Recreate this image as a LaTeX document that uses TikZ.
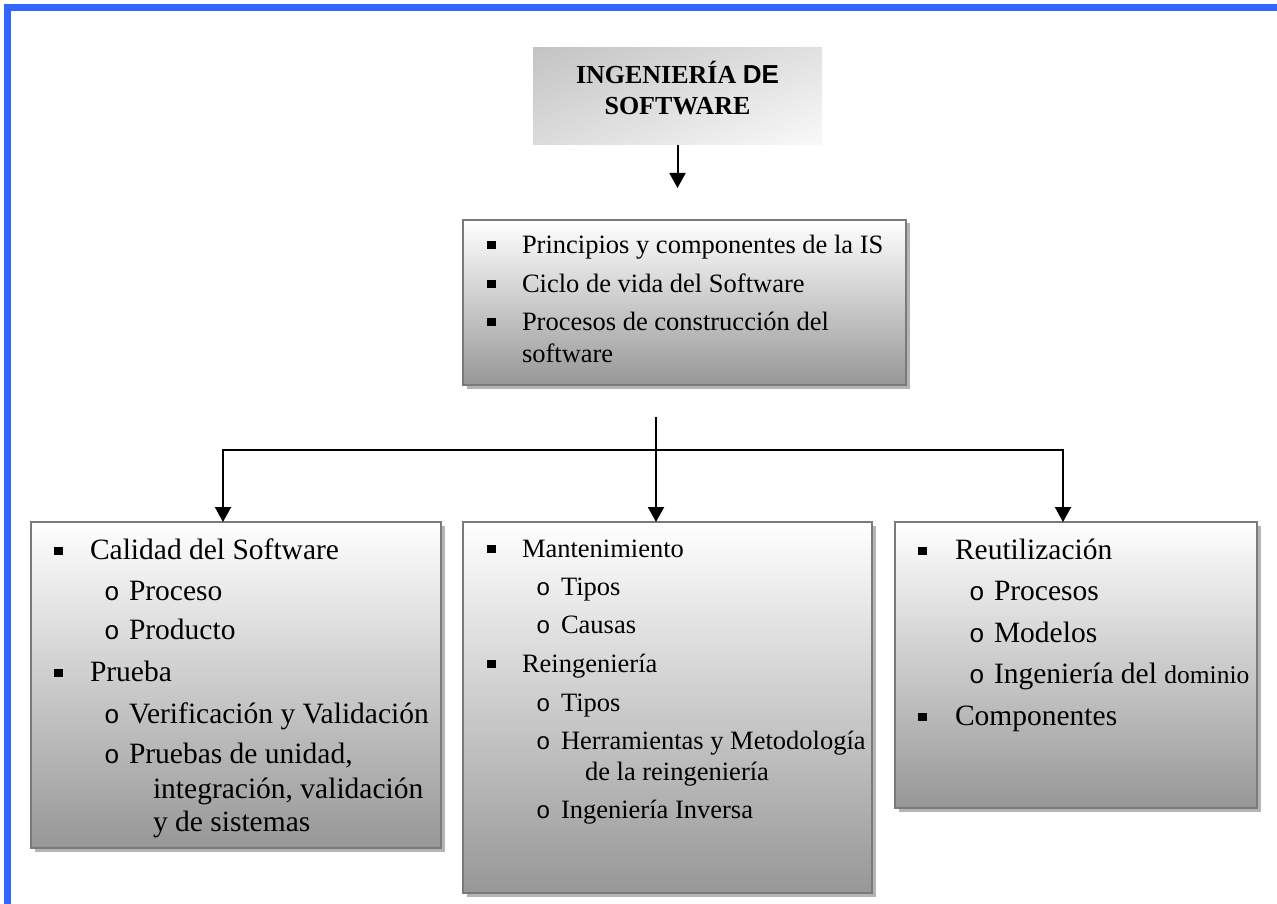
\documentclass[tikz,border=0pt]{standalone}
\usepackage{fontspec}
\setmainfont{Liberation Serif}
\newfontfamily\arialb{Liberation Sans}
\newfontfamily\monof{Liberation Mono}
\usetikzlibrary{arrows.meta,shadows,calc}
\definecolor{frameblue}{HTML}{3366FF}
\definecolor{boxbot}{HTML}{979797}
\definecolor{boxborder}{HTML}{7A7A7A}
\definecolor{shadowgray}{HTML}{B4B4B4}
\definecolor{titleleft}{HTML}{D0D0D0}
\definecolor{titleright}{HTML}{F8F8F8}
\definecolor{titletop}{HTML}{A0A0A0}
\newcommand\fbig{\fontsize{29.5}{35}\selectfont}
\newcommand\fmid{\fontsize{26.5}{32}\selectfont}
\newcommand\fdom{\fontsize{25.5}{30}\selectfont}
\newcommand\sqb{\rule[4pt]{8.5pt}{8.5pt}}
\newcommand\cirb{\makebox[25pt][l]{\monof\fontsize{26}{30}\selectfont o}}
\newcommand\cirm{\makebox[25pt][l]{\monof\fontsize{24}{28}\selectfont o}}
\begin{document}
\begin{tikzpicture}[x=1pt,y=-1pt,
  box/.style={draw=boxborder, line width=2pt, rectangle, inner sep=0pt, outer sep=0pt,
    top color=white, bottom color=boxbot,
    drop shadow={shadow xshift=3.5pt, shadow yshift=-3.5pt, fill=shadowgray, opacity=1}},
  titlebox/.style={rectangle, inner sep=0pt, outer sep=0pt,
    left color=titleleft, right color=titleright},
  txt/.style={anchor=base west, inner sep=0pt, outer sep=0pt},
  ttl/.style={anchor=base, inner sep=0pt, outer sep=0pt, font=\fontsize{26}{31}\selectfont\bfseries},
  conn/.style={line width=2pt, -{Triangle[width=16pt,length=15pt]}},
  plain/.style={line width=2pt}]
\useasboundingbox (0,0) rectangle (1277,904);
\fill[white] (0,0) rectangle (1277,904);
% blue frame
\draw[frameblue, line width=7pt] (7.5,904) -- (7.5,7.5) -- (1277,7.5);

% boxes
\node[titlebox, minimum width=289pt, minimum height=97pt] (title) at (677.5,96.5) {};
\shade[top color=titletop, bottom color=white, opacity=0.25] (title.north west) rectangle (title.south east);
\node[box, minimum width=443pt, minimum height=165pt] (mid) at (684.5,302.5) {};
\node[box, minimum width=410pt, minimum height=326pt] (left) at (236,685) {};
\node[box, minimum width=409pt, minimum height=371pt] (cen) at (667.5,707.5) {};
\node[box, minimum width=362pt, minimum height=286pt] (right) at (1076,665) {};

% title text
\node[ttl] (t1) at (677.5,84) {INGENIERÍA {\arialb DE}};
\node[ttl] (t2) at (677.5,115) {SOFTWARE};

% middle top box text
\node[txt, font=\fmid] (m1) at (487,253) {\sqb\hspace{26.5pt}Principios y componentes de la IS};
\node[txt, font=\fmid] (m2) at (487,292) {\sqb\hspace{26.5pt}Ciclo de vida del Software};
\node[txt, font=\fmid] (m3) at (487,330) {\sqb\hspace{26.5pt}Procesos de construcción del};
\node[txt, font=\fmid] (m4) at (522,362) {software};

% left box text
\node[txt, font=\fbig] (l1) at (54,559) {\sqb\hspace{27.5pt}Calidad del Software};
\node[txt, font=\fbig] (l2) at (104,600) {\cirb Proceso};
\node[txt, font=\fbig] (l3) at (104,639) {\cirb Producto};
\node[txt, font=\fbig] (l4) at (54,681) {\sqb\hspace{27.5pt}Prueba};
\node[txt, font=\fbig] (l5) at (104,723) {\cirb Verificación y Validación};
\node[txt, font=\fbig] (l6) at (104,763) {\cirb Pruebas de unidad,};
\node[txt, font=\fbig] (l7) at (153,798) {integración, validación};
\node[txt, font=\fbig] (l8) at (153,831) {y de sistemas};

% center box text
\node[txt, font=\fmid] (c1) at (487,557) {\sqb\hspace{26.5pt}Mantenimiento};
\node[txt, font=\fmid] (c2) at (536,595) {\cirm Tipos};
\node[txt, font=\fmid] (c3) at (536,633) {\cirm Causas};
\node[txt, font=\fmid] (c4) at (487,672) {\sqb\hspace{26.5pt}Reingeniería};
\node[txt, font=\fmid] (c5) at (536,711) {\cirm Tipos};
\node[txt, font=\fmid] (c6) at (536,749) {\cirm Herramientas y Metodología};
\node[txt, font=\fmid] (c7) at (585,780) {de la reingeniería};
\node[txt, font=\fmid] (c8) at (536,818) {\cirm Ingeniería Inversa};

% right box text
\node[txt, font=\fbig] (r1) at (918,559) {\sqb\hspace{28.5pt}Reutilización};
\node[txt, font=\fbig] (r2) at (969,600) {\cirb Procesos};
\node[txt, font=\fbig] (r3) at (969,642) {\cirb Modelos};
\node[txt, font=\fbig] (r4) at (969,683) {\cirb Ingeniería del {\fdom dominio}};
\node[txt, font=\fbig] (r5) at (918,725) {\sqb\hspace{28.5pt}Componentes};

% connectors
\coordinate (a1) at (677.5,188);
\coordinate (s2) at (656,417);
\coordinate (jL) at (223,450);
\coordinate (jM) at (656,450);
\coordinate (jR) at (1063,450);
\draw[conn] (title.south) -- (a1);
\draw[conn] (s2) -- (s2 |- cen.north);
\draw[conn] (jM) -- (jL) -- (jL |- left.north);
\draw[conn] (jM) -- (jR) -- (jR |- right.north);
\end{tikzpicture}
\end{document}
